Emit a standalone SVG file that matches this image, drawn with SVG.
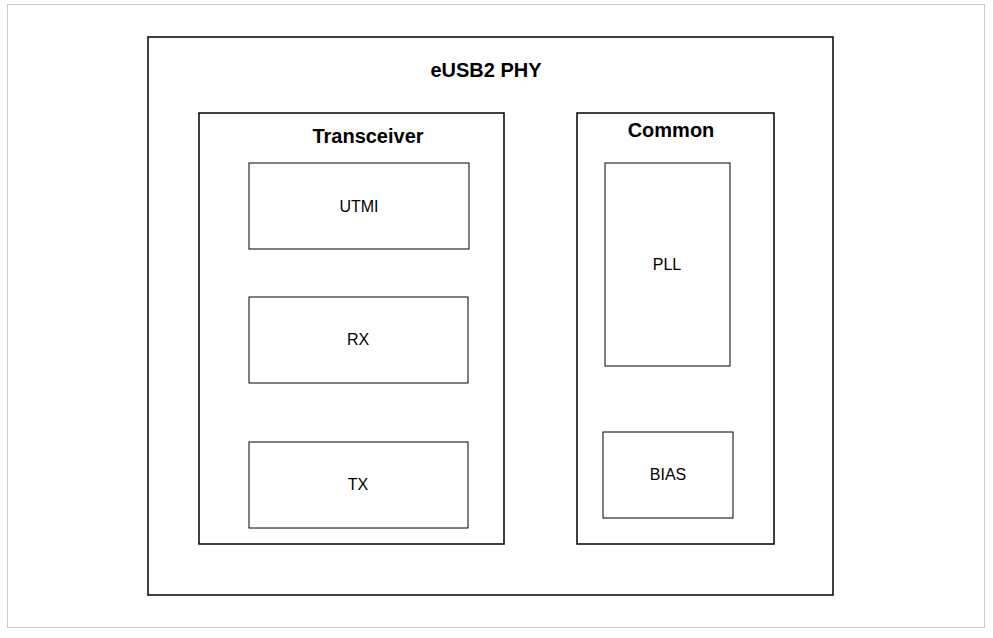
<svg xmlns="http://www.w3.org/2000/svg" width="993" height="638" viewBox="0 0 993 638">
<style>
.b{fill:#fff;stroke:#000;stroke-width:1.5}
.s{fill:#fff;stroke:#000;stroke-width:1}
.t{font-family:"Liberation Sans",Arial,sans-serif;font-size:16px;text-anchor:middle}
.h{font-family:"Liberation Sans",Arial,sans-serif;font-size:20px;font-weight:bold;text-anchor:middle}
</style>
<rect x="0" y="0" width="993" height="638" fill="#fff"/>
<rect x="7.5" y="4.5" width="977" height="623" fill="none" stroke="#ccc"/>
<g id="phy"><rect class="b" x="148" y="37" width="685" height="558"/><text class="h" x="486" y="77">eUSB2 PHY</text></g>
<g id="transceiver"><rect class="b" x="199" y="113" width="305" height="431"/><text class="h" x="368" y="143">Transceiver</text></g>
<g id="common"><rect class="b" x="577" y="113" width="197" height="431"/><text class="h" x="671" y="137">Common</text></g>
<g id="utmi"><rect class="s" x="249" y="163" width="220" height="86"/><text class="t" x="359" y="212">UTMI</text></g>
<g id="rx"><rect class="s" x="249" y="297" width="219" height="86"/><text class="t" x="358" y="345">RX</text></g>
<g id="tx"><rect class="s" x="249" y="442" width="219" height="86"/><text class="t" x="358" y="490">TX</text></g>
<g id="pll"><rect class="s" x="605" y="163" width="125" height="203"/><text class="t" x="667" y="270">PLL</text></g>
<g id="bias"><rect class="s" x="603" y="432" width="130" height="86"/><text class="t" x="668" y="480">BIAS</text></g>
<g id="connectors"/>
</svg>
